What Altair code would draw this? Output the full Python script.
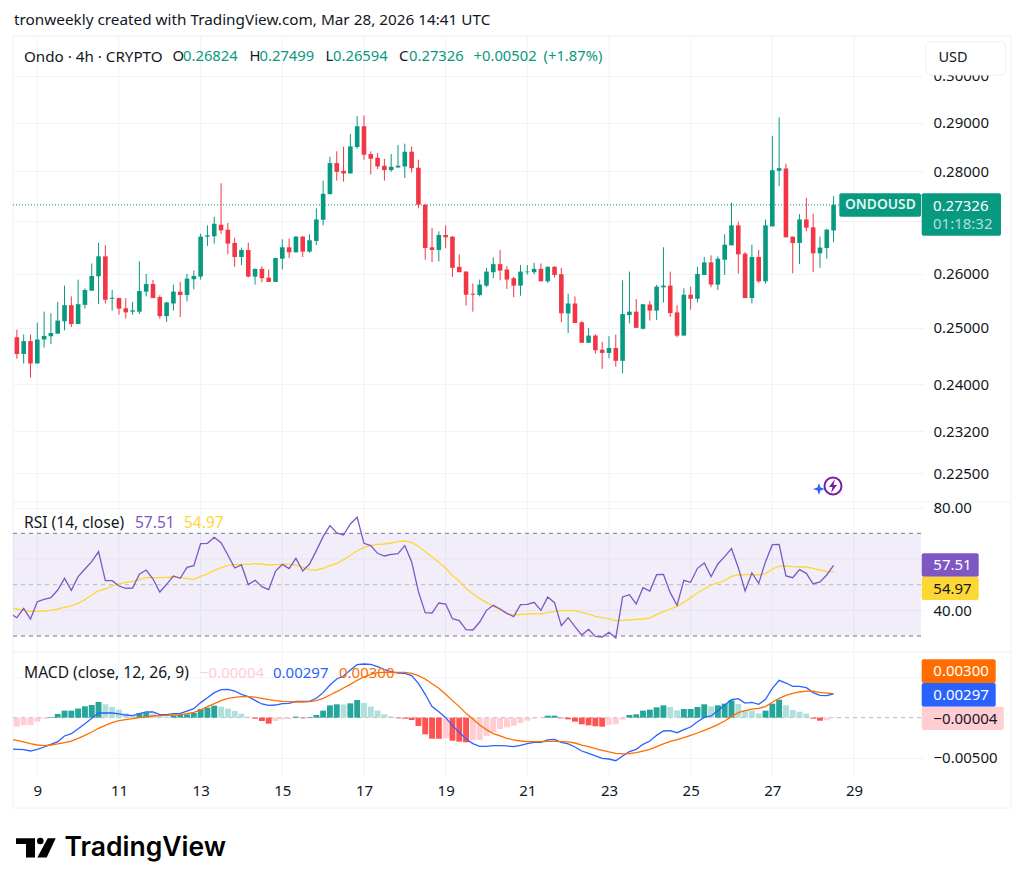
import altair as alt
import pandas as pd

# --- values (4h candles, first one on Mar 8 12:00 UTC) ---
opens = [.24831,.24532,.24761,.24363,.24790,.24848,.24895,.25119,.25413,.25069,.25419,.25681,.25950,.26327,.25531,.25544,.25356,.25294,.25294,.25663,
 .25806,.25563,.25213,.25444,.25663,.25600,.25894,.25944,.26705,.26712,.26936,.26840,.26583,.26314,.26449,.25944,.26090,.25925,.25844,.26282,
 .26500,.26404,.26705,.26417,.26622,.27033,.27540,.28164,.28007,.27954,.28493,.28925,.28349,.28274,.28110,.28021,.28075,.28096,.28397,.28069,
 .27329,.26500,.26449,.26737,.26705,.26128,.26038,.25625,.25600,.25775,.26026,.26179,.26077,.25913,.25775,.26026,.26026,.26090,.25856,.26128,
 .25988,.25263,.25444,.25100,.24731,.24860,.24608,.24550,.24638,.24410,.25231,.25294,.24983,.25425,.25313,.25744,.25775,.25281,.24860,.25606,
 .25531,.25975,.26212,.25794,.26263,.26538,.26923,.26378,.25544,.26314,.25856,.26904,.28007,.28055,.26705,.26583,.27039,.26885,.26385,.26487,.26824]
highs = [.24965,.24878,.24878,.25094,.25294,.25263,.25475,.25775,.25575,.25888,.25725,.26192,.26583,.26538,.25694,.25550,.25544,.25475,.26231,.25994,
 .25881,.25594,.25475,.25794,.25844,.25994,.26058,.26763,.26923,.27092,.27757,.26974,.26686,.26494,.26590,.26090,.26141,.26077,.26301,.26654,
 .26667,.26718,.26718,.26750,.27257,.27809,.28295,.28404,.28500,.28767,.29137,.29151,.28404,.28370,.28253,.28349,.28534,.28562,.28507,.28233,
 .27342,.26878,.26808,.26923,.26712,.26365,.26045,.25813,.25888,.26109,.26308,.26449,.26141,.25938,.26160,.26160,.26205,.26192,.26135,.26141,
 .26109,.25625,.25575,.25125,.25000,.24883,.24749,.24848,.24878,.25875,.26038,.25525,.25438,.25494,.25788,.26500,.26038,.25413,.25725,.25756,
 .26128,.26314,.26346,.26327,.26750,.27368,.26994,.26410,.26551,.26449,.27039,.28726,.29110,.28151,.26705,.27145,.27467,.27151,.26705,.26859,.27499]
lows = [.24445,.24363,.24117,.24363,.24644,.24708,.24895,.24954,.25013,.25069,.25350,.25681,.25431,.25444,.25313,.25238,.25169,.25238,.25250,.25575,
 .25544,.25163,.25106,.25313,.25194,.25481,.25706,.25888,.26526,.26570,.26756,.26365,.26128,.26160,.25931,.25794,.25838,.25844,.25844,.26077,
 .26295,.26397,.26314,.26397,.26545,.26923,.27533,.27809,.27790,.27954,.28459,.28233,.27934,.28041,.27809,.27987,.28075,.27862,.27974,.27257,
 .26263,.26218,.26231,.26481,.25938,.26026,.25406,.25294,.25575,.25750,.25913,.25875,.25713,.25563,.25588,.25981,.25988,.25856,.25825,.25925,
 .25100,.24907,.25088,.24731,.24731,.24538,.24269,.24456,.24304,.24193,.25081,.25000,.24971,.25131,.25144,.25463,.25194,.24831,.24860,.25331,
 .25463,.25975,.25744,.25694,.25975,.26538,.26000,.25544,.25444,.25825,.25813,.26904,.27697,.26692,.26006,.26179,.26808,.26026,.26109,.26282,.26594]
closes = [.24532,.24761,.24363,.24790,.24854,.24907,.25131,.25413,.25069,.25431,.25694,.25956,.26327,.25513,.25550,.25350,.25281,.25319,.25675,.25806,
 .25544,.25213,.25463,.25663,.25600,.25906,.25956,.26705,.26731,.26955,.26827,.26570,.26314,.26449,.25944,.26090,.25913,.25844,.26295,.26500,
 .26404,.26705,.26417,.26635,.27039,.27546,.28164,.27987,.27954,.28507,.28925,.28336,.28253,.28096,.28021,.28089,.28110,.28397,.28062,.27329,
 .26487,.26449,.26737,.26692,.26109,.26026,.25606,.25606,.25794,.26038,.26179,.26058,.25888,.25775,.26038,.26038,.26090,.25856,.26128,.25975,
 .25263,.25444,.25088,.24731,.24860,.24597,.24550,.24638,.24410,.25250,.25294,.25000,.25431,.25313,.25756,.25775,.25269,.24860,.25606,.25531,
 .25994,.26212,.25794,.26282,.26551,.26923,.26365,.25544,.26314,.25856,.26923,.28021,.28062,.26692,.26583,.27039,.26878,.26385,.26494,.26840,.27326]
rsi = [37.14,40.78,36.62,43.38,44.29,44.94,47.92,52.47,47.79,53.12,56.1,58.96,62.86,51.56,51.56,49.48,48.57,48.7,54.03,55.71,
 52.21,47.14,50.13,53.38,52.47,56.75,57.4,65.97,66.1,68.44,66.36,61.56,56.49,57.66,50,51.69,49.22,48.05,55.19,57.92,
 56.23,60.26,55.32,58.05,63.25,68.7,72.99,70.13,69.35,73.64,76.23,66.1,65.19,62.21,61.17,61.82,62.08,65.19,58.96,47.27,
 39.09,38.96,42.86,42.47,36.75,35.97,32.47,32.34,35.45,40,41.95,40.52,38.83,37.53,42.21,42.34,43.12,40,45.2,42.99,
 34.03,37.14,33.64,30.39,32.6,29.87,29.61,31.43,29.22,45.2,46.1,42.47,48.83,47.53,53.9,54.03,46.88,41.95,51.69,50.91,
 56.36,58.44,53.12,58.05,60.91,64.03,56.62,47.53,54.55,50.52,58.96,65.58,65.71,53.38,52.73,55.84,54.42,50.26,51.04,53.77,57.51]
rsi_ma = [40.52,40,39.61,39.61,39.74,40,40.52,41.17,41.69,42.73,44.16,45.97,47.66,48.31,49.48,50.26,50.91,51.3,51.95,52.86,
 52.73,52.73,52.86,52.99,52.73,52.34,52.08,53.25,54.16,55.58,56.62,57.53,57.79,57.92,57.92,58.18,58.05,57.66,57.79,57.92,
 57.92,57.66,56.75,55.84,55.71,56.36,57.4,58.31,59.74,61.43,63.12,64.55,65.32,65.71,65.84,66.23,66.75,67.01,66.49,64.94,
 62.86,60.91,58.7,56.36,53.51,51.43,48.57,46.36,44.55,42.99,41.69,40.13,38.83,38.18,38.44,38.57,38.7,38.57,39.09,39.61,
 39.87,40,39.87,39.22,38.57,37.66,37.14,36.75,35.97,36.1,36.23,36.49,36.62,37.01,38.31,39.48,40.52,41.56,43.12,44.94,
 46.75,48.31,49.87,50.65,51.56,53.25,53.77,53.9,53.9,53.77,54.29,56.1,57.14,57.27,57.01,56.88,56.88,56.36,55.71,55.06,54.97]
macd = [-.00396,-.004,-.00417,-.00396,-.00367,-.00333,-.003,-.00229,-.002,-.00138,-.00075,-.00008,.00058,.00058,.00058,.00046,.00033,.00025,.0005,.00071,
 .00071,.00038,.00038,.0005,.00054,.00083,.00113,.00188,.0025,.00313,.0035,.00354,.00333,.00292,.00263,.00217,.00171,.00154,.00158,.00175,
 .00179,.00204,.00204,.00204,.00242,.00313,.00408,.00483,.00521,.00596,.00663,.00671,.00667,.00638,.006,.00575,.00558,.00554,.00525,.00429,
 .00292,.00138,.00075,0,-.001,-.00183,-.00267,-.00325,-.00358,-.00358,-.0035,-.0035,-.00354,-.00363,-.00346,-.00325,-.00308,-.00308,-.00279,-.00271,
 -.00308,-.00329,-.00367,-.00417,-.00446,-.00479,-.00508,-.00517,-.00538,-.00479,-.00425,-.00396,-.00333,-.00292,-.00221,-.00167,-.00163,-.00188,-.0015,-.00117,
 -.0005,.00004,.00021,.00088,.00158,.00225,.00238,.00183,.00192,.00167,.00229,.00367,.00467,.00433,.00392,.00392,.00375,.00313,.00279,.00275,.00297]
signal = [-.00283,-.00304,-.00325,-.00342,-.0035,-.00342,-.00329,-.00313,-.00292,-.00258,-.00221,-.00179,-.00133,-.00096,-.00063,-.00038,-.00025,-.00013,0,.00013,
 .00021,.00025,.00029,.00033,.00038,.0005,.00067,.00096,.00138,.00175,.00213,.00242,.00254,.00263,.00263,.00258,.00242,.00225,.00213,.00204,
 .002,.00196,.00196,.002,.00213,.00242,.00283,.00325,.00371,.00417,.00467,.00508,.00542,.00563,.00567,.00567,.00567,.00567,.00554,.00525,
 .00483,.00425,.00367,.00292,.00213,.00138,.00054,-.00017,-.00092,-.0015,-.002,-.00229,-.00258,-.00279,-.00292,-.003,-.003,-.003,-.00296,-.00296,
 -.003,-.00304,-.00317,-.00342,-.00363,-.00388,-.00408,-.00429,-.00446,-.00454,-.0045,-.00438,-.00417,-.00396,-.00363,-.00329,-.00296,-.00275,-.0025,-.00221,
 -.00192,-.00158,-.00125,-.00088,-.00042,.00013,.00063,.00088,.00108,.00117,.00138,.00192,.00242,.00279,.00304,.00321,.00333,.00333,.00317,.00308,.003]
hist = [-.00113,-.00096,-.00092,-.0005,-.00013,.00008,.00046,.00088,.00088,.00113,.00142,.00158,.00196,.00167,.00133,.001,.00054,.00033,.00054,.00063,
 .0005,.00017,.00013,.00029,.00033,.00042,.00058,.00108,.00125,.0015,.00138,.00113,.00083,.0005,.00013,-.00013,-.00042,-.00075,-.00042,-.00021,
 -.00017,.00013,-.00008,.00008,.00033,.00088,.00154,.00167,.00165,.00179,.00221,.00183,.00138,.00088,.00042,.00017,-.00008,-.00013,-.00029,-.00104,
 -.00208,-.00263,-.00264,-.00258,-.00288,-.003,-.00308,-.00279,-.00279,-.00229,-.00183,-.00142,-.00121,-.001,-.00067,-.00038,-.00013,-.00004,.00025,.00025,
 -.00008,-.00021,-.0005,-.00083,-.00096,-.00108,-.00113,-.00088,-.00083,-.00025,.00033,.00042,.00088,.001,.00129,.00154,.00133,.00092,.00108,.00108,
 .00133,.00167,.00142,.00154,.00175,.00217,.00171,.00096,.00088,.00054,.00088,.00175,.00225,.00154,.00096,.00075,.0005,-.00013,-.00038,-.00033,-.00004]
bar_index = list(range(-3, 118))
for name, arr in dict(opens=opens, highs=highs, lows=lows, closes=closes, rsi=rsi, rsi_ma=rsi_ma, macd=macd, signal=signal, hist=hist).items():
    assert len(arr) == 121, (name, len(arr))

# the bar just left of the visible candles: only its indicator values show, cut by the plot edge
prior_index = -4
prior_rsi, prior_rsi_ma, prior_macd, prior_signal = 38.83, 41.17, -.00392, -.00267

price_ticks = [.225, .232, .24, .25, .26, .28, .29, .30]
price_grid_only = [.27]
rsi_ticks = [40, 80]
rsi_grid_only = [60]
macd_ticks = [-.005]
macd_grid_only = [.005]
day_ticks = [9, 11, 13, 15, 17, 19, 21, 23, 25, 27, 29]
last_close = .27326

FONT = "Noto Sans"
INK = "#131722"
GREEN = "#089981"
RED = "#F23645"
PURPLE = "#7E57C2"
YELLOW = "#FDD835"
BLUE = "#2962FF"
ORANGE = "#FF6D00"
PINK = "#FFCDD2"
GRID = "#F2F3F6"
FRAME = "#EEF0F4"

kinds = []
prev = hist[0] - .0002
for v in hist:
    if v >= 0:
        kinds.append("hist_up" if v >= prev else "hist_up_fade")
    else:
        kinds.append("hist_down" if v < prev else "hist_down_fade")
    prev = v

df = pd.DataFrame({
    "day": [9 + i / 6 for i in bar_index],
    "open": opens, "high": highs, "low": lows, "close": closes,
    "hist": hist,
    "zero": [0] * len(hist),
    "hist_kind": kinds,
    "candle": ["up" if c >= o else "down" for o, c in zip(opens, closes)],
})
lines_df = pd.DataFrame({
    "day": [9 + i / 6 for i in [prior_index] + bar_index],
    "rsi": [prior_rsi] + rsi, "rsi_ma": [prior_rsi_ma] + rsi_ma,
    "macd": [prior_macd] + macd, "signal": [prior_signal] + signal,
})
one = pd.DataFrame({"k": [0]})

palette = alt.Scale(
    domain=["up", "down", "hist_up", "hist_up_fade", "hist_down", "hist_down_fade"],
    range=[GREEN, RED, "#26A69A", "#B2DFDB", "#FF5252", PINK],
)
x_scale = alt.Scale(domain=[8.405, 30.69], nice=False, zero=False, padding=0)
x_axis = alt.Axis(values=day_ticks, format="d", domain=False, ticks=False, grid=False,
                  labelFontSize=15, labelFont=FONT, labelColor=INK, labelPadding=8, labelFlush=False, title=None)
X = alt.X("day:Q", scale=x_scale, axis=x_axis, title=None)

price_scale = alt.Scale(type="log", domain=[.22040, .30877], range=[466, 0], nice=False, zero=False, padding=0)
rsi_scale = alt.Scale(domain=[23.77, 82.2], range=[616, 466], nice=False, zero=False, padding=0)
macd_scale = alt.Scale(domain=[-.00717, .00821], range=[739, 616], nice=False, zero=False, padding=0)


def y_axis(values, fmt):
    return alt.Axis(orient="right", values=values, format=fmt, domain=False, ticks=False, grid=True, gridColor=GRID,
                    labelFontSize=15, labelFont=FONT, labelColor=INK, labelPadding=10, title=None, labelOverlap=False,
                    labelFlush=False)


def P(f, axis=None):
    return alt.Y(f, scale=price_scale, axis=axis, title=None)


def R(f, axis=None):
    return alt.Y(f, scale=rsi_scale, axis=axis, title=None)


def M(f, axis=None):
    return alt.Y(f, scale=macd_scale, axis=axis, title=None)


def txt(label, x, y, color=INK, size=15, weight="normal", font=FONT):
    return alt.Chart(one).mark_text(text=label, align="left", baseline="middle", font=font, fontSize=size,
                                    fontWeight=weight, color=color).encode(x=alt.value(x - 13), y=alt.value(y - 36))


def box(x1, x2, y1, y2, fill, radius=2, stroke=None):
    kw = dict(fill=fill, cornerRadius=radius)
    if stroke:
        kw["stroke"] = stroke
    return alt.Chart(one).mark_rect(**kw).encode(x=alt.value(x1 - 13), x2=alt.value(x2 - 13),
                                                 y=alt.value(y1 - 36), y2=alt.value(y2 - 36))


def seg(x1, y1, x2, y2, color=FRAME):
    return alt.Chart(one).mark_rule(color=color, strokeWidth=1).encode(
        x=alt.value(x1 - 13), x2=alt.value(x2 - 13), y=alt.value(y1 - 36), y2=alt.value(y2 - 36))


def icon(path, x, y, color):
    return alt.Chart(one).mark_point(shape=path, size=4, filled=True, color=color, opacity=1).encode(
        x=alt.value(x - 13), y=alt.value(y - 36))


def grid_rules(values, enc):
    return alt.Chart(pd.DataFrame({"v": values})).mark_rule(color=GRID, strokeWidth=1).encode(
        y=enc("v:Q"), x=alt.value(0), x2=alt.value(910))


base = alt.Chart(df)
line_base = alt.Chart(lines_df)
layers = []

# frame
layers += [seg(13, 36, 1011, 36), seg(13, 808, 1011, 808), seg(13, 36, 13, 808), seg(1011, 36, 1011, 808),
           seg(13, 502, 1011, 502), seg(13, 652, 1011, 652)]

# vertical grid through all three panels
layers.append(alt.Chart(pd.DataFrame({"d": day_ticks})).mark_rule(color=GRID, strokeWidth=1).encode(
    x=alt.X("d:Q", scale=x_scale, axis=x_axis, title=None), y=alt.value(0), y2=alt.value(739)))
layers += [grid_rules(price_grid_only, P), grid_rules(rsi_grid_only, R), grid_rules(macd_grid_only, M)]

# price panel
layers.append(alt.Chart(pd.DataFrame({"p": [last_close]})).mark_rule(color=GREEN, strokeWidth=1, strokeDash=[1, 2]).encode(
    y=P("p:Q"), x=alt.value(0), x2=alt.value(826)))
layers.append(base.mark_rule(strokeWidth=1).encode(
    x=X, y=P("low:Q", y_axis(price_ticks, ".5f")), y2="high:Q",
    color=alt.Color("candle:N", scale=palette, legend=None)))
layers.append(base.mark_bar(size=4.6, orient="vertical").encode(
    x=X, y=P("open:Q"), y2="close:Q", color=alt.Color("candle:N", scale=palette, legend=None)))

# RSI panel
rsi_levels = pd.DataFrame({"hi": [70], "lo": [30]})
layers.append(alt.Chart(rsi_levels).mark_rect(color=PURPLE, opacity=.1).encode(
    x=alt.value(0), x2=alt.value(908), y=R("hi:Q", y_axis(rsi_ticks, ".2f")), y2="lo:Q"))
for level, col in [(70, "#787B86"), (50, "#B8BAC2"), (30, "#787B86")]:
    layers.append(alt.Chart(pd.DataFrame({"v": [level]})).mark_rule(color=col, strokeWidth=1, strokeDash=[4, 4]).encode(
        y=R("v:Q"), x=alt.value(0), x2=alt.value(908)))
layers.append(line_base.mark_line(color=YELLOW, strokeWidth=1.3, clip=True).encode(x=X, y=R("rsi_ma:Q")))
layers.append(line_base.mark_line(color=PURPLE, strokeWidth=1.3, clip=True).encode(x=X, y=R("rsi:Q")))

# MACD panel
layers.append(alt.Chart(pd.DataFrame({"v": [0]})).mark_rule(color="#B8BAC2", strokeWidth=1, strokeDash=[4, 4]).encode(
    y=M("v:Q", y_axis(macd_ticks, ".5f")), x=alt.value(0), x2=alt.value(908)))
layers.append(base.mark_bar(size=5.9, orient="vertical").encode(
    x=X, y=M("hist:Q"), y2="zero:Q", color=alt.Color("hist_kind:N", scale=palette, legend=None)))
layers.append(line_base.mark_line(color=BLUE, strokeWidth=1.3, clip=True).encode(x=X, y=M("macd:Q")))
layers.append(line_base.mark_line(color=ORANGE, strokeWidth=1.3, clip=True).encode(x=X, y=M("signal:Q")))

# header
layers.append(txt("tronweekly created with TradingView.com, Mar 28, 2026 14:41 UTC", 14, 20, size=15.3))
layers.append(txt("Ondo · 4h · CRYPTO", 24, 57, size=15.2))
for s, x, c in [("O", 172.5, INK), ("0.26824", 183, GREEN), ("H", 249.5, INK), ("0.27499", 259.5, GREEN),
                ("L", 325.5, INK), ("0.26594", 333, GREEN), ("C", 399, INK), ("0.27326", 409, GREEN),
                ("+0.00502", 473.5, GREEN), ("(+1.87%)", 543.5, GREEN)]:
    layers.append(txt(s, x, 57, color=c, size=14.8))

# USD box
layers.append(box(925.7, 1005.7, 41.7, 75, "#FFFFFF", radius=5, stroke=FRAME))
layers.append(txt("USD", 938.5, 58, size=14.5))

# last price tags
layers.append(box(839.3, 921, 193.3, 216.7, GREEN))
layers.append(txt("ONDOUSD", 845, 205.3, color="#E3F4F1", size=13.8, weight=600))
layers.append(box(921.7, 1001, 193.3, 235.7, GREEN))
layers.append(txt("0.27326", 933, 205.5, color="#FFFFFF", size=15))
layers.append(txt("01:18:32", 933, 224, color="#B2DFDB", size=15))

# RSI labels and tags
layers.append(txt("RSI (14, close)", 24, 522.5, size=15.6))
layers.append(txt("57.51", 135, 522.5, color=PURPLE, size=15.5))
layers.append(txt("54.97", 184, 522.5, color=YELLOW, size=15.5))
layers.append(box(921.7, 978.7, 553.3, 576.7, PURPLE))
layers.append(box(921.7, 978.7, 576.7, 600, YELLOW))
layers.append(txt("57.51", 933.3, 565, color="#FFFFFF"))
layers.append(txt("54.97", 933.3, 588.5, color=INK))

# MACD labels and tags
layers.append(txt("MACD (close, 12, 26, 9)", 24, 672.5, size=15.6))
layers.append(txt("−0.00004", 200, 672.5, color=PINK, size=15))
layers.append(txt("0.00297", 273, 672.5, color=BLUE, size=15))
layers.append(txt("0.00300", 339, 672.5, color=ORANGE, size=15))
layers.append(box(921.7, 995.7, 659.3, 683, ORANGE))
layers.append(box(921.7, 995.7, 683, 706.7, BLUE))
layers.append(box(921.7, 1003.7, 706.7, 730, PINK))
layers.append(txt("0.00300", 933.3, 671, color="#FFFFFF"))
layers.append(txt("0.00297", 933.3, 695, color="#FFFFFF"))
layers.append(txt("−0.00004", 933.3, 718.5, color=INK))

# small purple badge
layers.append(alt.Chart(one).mark_point(size=290, color="#7B1FA2", strokeWidth=2, filled=False, opacity=1).encode(
    x=alt.value(833 - 13), y=alt.value(486 - 36)))
layers.append(icon("M2 -7 L-4 1 H-0.5 L-2 7 L4 -1 H0.5 Z", 833, 486, "#7B1FA2"))
layers.append(icon("M0 -6 L1.5 -1.5 L6 0 L1.5 1.5 L0 6 L-1.5 1.5 L-6 0 L-1.5 -1.5 Z", 819, 489, BLUE))

# TradingView logo
layers.append(icon("M-19.5 -9.2 H-0.5 V10 H-9.5 V-3.5 H-19.5 Z", 35.5, 847.5, "#000000"))
layers.append(alt.Chart(one).mark_point(size=44, color="#000000", filled=True, opacity=1, shape="circle").encode(
    x=alt.value(40.3 - 13), y=alt.value(841 - 36)))
layers.append(icon("M12.2 -9.2 H20.2 L11.2 10 H1.8 Z", 35.5, 847.5, "#000000"))
layers.append(txt("TradingView", 64.5, 848, color="#000000", size=26.5, weight=600, font="Inter"))

chart = (
    alt.layer(*layers)
    .resolve_scale(y="independent")
    .properties(width=910, height=739,
                padding={"left": 5, "top": 28, "right": 93, "bottom": 90},
                autosize=alt.AutoSizeParams(type="none"),
                background="#FFFFFF")
    .configure_view(stroke=None)
)
chart.save("out.html", embed_options={"renderer": "svg", "actions": False})
